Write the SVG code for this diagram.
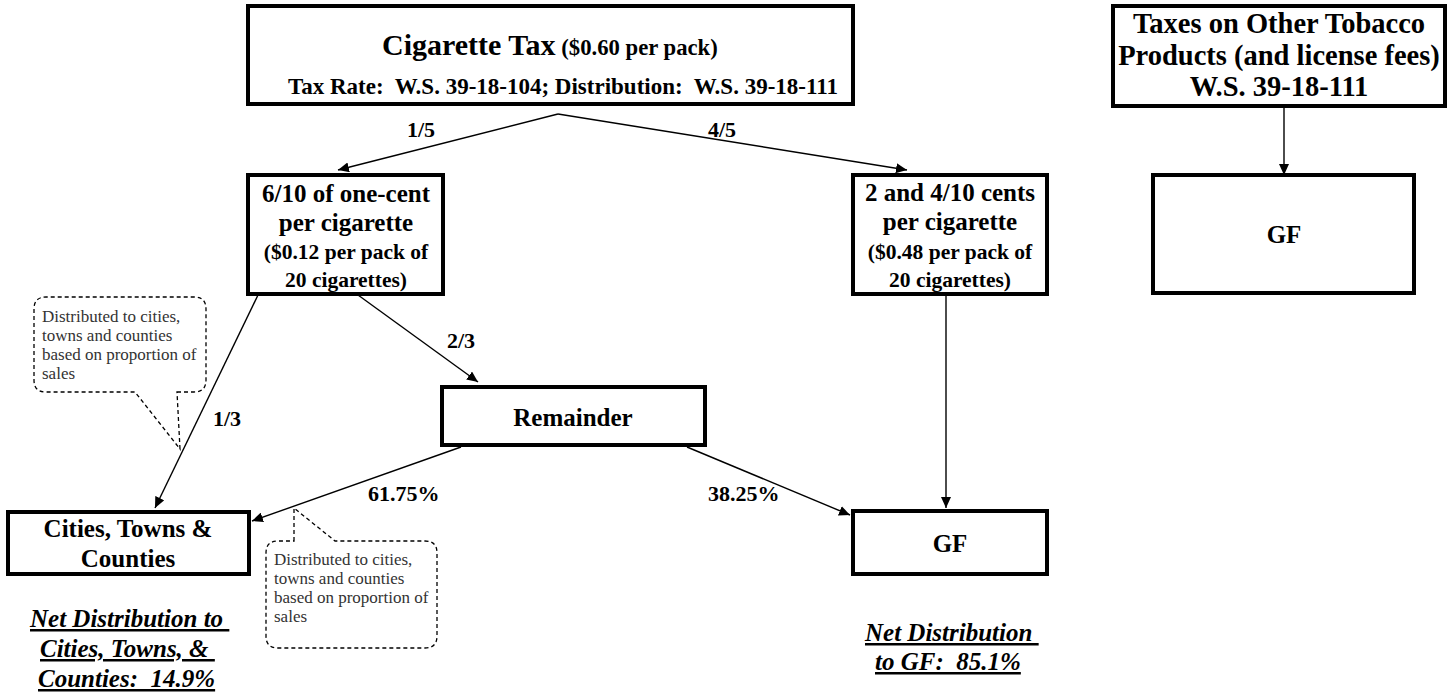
<svg xmlns="http://www.w3.org/2000/svg" width="1448" height="693" viewBox="0 0 1448 693">
  <style>
    text { font-family: "Liberation Serif", "Times New Roman", serif; fill: #000; white-space: pre; }
    .box { fill: #fff; stroke: #000; stroke-width: 4; }
    .big { font-size: 25px; font-weight: bold; }
    .mid { font-size: 21.5px; font-weight: bold; }
    .lbl { font-size: 22px; font-weight: bold; }
    .note { font-size: 17px; fill: #333; }
    .net { font-size: 25px; font-weight: bold; font-style: italic; text-decoration: underline; }
    .wire { fill: none; stroke: #000; stroke-width: 1.4; marker-end: url(#arrow); }
    .callout { fill: #fff; stroke: #000; stroke-width: 1.3; stroke-dasharray: 4 3; }
  </style>
  <defs>
    <marker id="arrow" markerUnits="userSpaceOnUse" markerWidth="12" markerHeight="10" refX="11" refY="5" orient="auto">
      <path d="M0,0 L11,5 L0,10 Z" fill="#000"/>
    </marker>
  </defs>
  <rect width="1448" height="693" fill="#fff"/>

  <!-- connectors -->
  <g id="connectors">
    <polyline class="wire" points="558,114 338,170"/>
    <polyline class="wire" points="558,114 907,170"/>
    <polyline class="wire" points="1284,106 1284,175"/>
    <polyline class="wire" points="258,295 155,508"/>
    <polyline class="wire" points="358,295 478,382"/>
    <polyline class="wire" points="461,447 252,521"/>
    <polyline class="wire" points="687,447 850,515"/>
    <polyline class="wire" points="946,295 946,508"/>
  </g>

  <!-- flow labels -->
  <g id="labels">
    <text class="lbl" x="407" y="137">1/5</text>
    <text class="lbl" x="708" y="137">4/5</text>
    <text class="lbl" x="447" y="348">2/3</text>
    <text class="lbl" x="213" y="426">1/3</text>
    <text class="lbl" x="368" y="501">61.75%</text>
    <text class="lbl" x="708" y="501">38.25%</text>
  </g>

  <!-- source: cigarette tax -->
  <g id="cigarette-tax">
    <rect class="box" x="248" y="6" width="605" height="98"/>
    <text x="382" y="55" font-weight="bold"><tspan font-size="30">Cigarette Tax</tspan><tspan font-size="22.7"> ($0.60 per pack)</tspan></text>
    <text x="288" y="94" font-weight="bold" font-size="23">Tax Rate:  W.S. 39-18-104; Distribution:  W.S. 39-18-111</text>
  </g>

  <!-- source: other tobacco products -->
  <g id="other-tobacco">
    <rect class="box" x="1113" y="6" width="332" height="100"/>
    <text x="1279" y="33" text-anchor="middle" font-weight="bold" font-size="28.5">Taxes on Other Tobacco</text>
    <text x="1279" y="65" text-anchor="middle" font-weight="bold" font-size="28.5">Products (and license fees)</text>
    <text x="1279" y="96" text-anchor="middle" font-weight="bold" font-size="28.5">W.S. 39-18-111</text>
  </g>

  <g id="gf-other">
    <rect class="box" x="1153" y="175" width="261" height="118"/>
    <text class="big" x="1284" y="243" text-anchor="middle" font-size="26">GF</text>
  </g>

  <!-- one-fifth share -->
  <g id="six-tenths">
    <rect class="box" x="248" y="175" width="195" height="119"/>
    <text class="big" x="346" y="202" text-anchor="middle">6/10 of one-cent</text>
    <text class="big" x="346" y="231" text-anchor="middle">per cigarette</text>
    <text class="mid" x="346" y="259" text-anchor="middle">($0.12 per pack of</text>
    <text class="mid" x="346" y="287" text-anchor="middle">20 cigarettes)</text>
  </g>

  <!-- four-fifths share -->
  <g id="two-and-four-tenths">
    <rect class="box" x="853" y="175" width="194" height="119"/>
    <text class="big" x="950" y="201" text-anchor="middle">2 and 4/10 cents</text>
    <text class="big" x="950" y="230" text-anchor="middle">per cigarette</text>
    <text class="mid" x="950" y="259" text-anchor="middle">($0.48 per pack of</text>
    <text class="mid" x="950" y="287" text-anchor="middle">20 cigarettes)</text>
  </g>

  <g id="remainder">
    <rect class="box" x="442" y="387" width="263" height="58"/>
    <text class="big" x="573" y="426" text-anchor="middle" font-size="26">Remainder</text>
  </g>

  <g id="cities">
    <rect class="box" x="8" y="512" width="241" height="62"/>
    <text class="big" x="128" y="537" text-anchor="middle">Cities, Towns &amp;</text>
    <text class="big" x="128" y="567" text-anchor="middle">Counties</text>
  </g>

  <g id="gf-cigarette">
    <rect class="box" x="853" y="511" width="194" height="63"/>
    <text class="big" x="950" y="552" text-anchor="middle" font-size="26">GF</text>
  </g>

  <!-- dashed callouts -->
  <g id="note-direct">
    <path class="callout" d="M177,392 L194,392 Q206,392 206,380 L206,309 Q206,297 194,297 L46,297 Q34,297 34,309 L34,380 Q34,392 46,392 L135,392 L180,449 Z"/>
    <text class="note" x="42" y="322">Distributed to cities,</text>
    <text class="note" x="42" y="341">towns and counties</text>
    <text class="note" x="42" y="360">based on proportion of</text>
    <text class="note" x="42" y="379">sales</text>
  </g>

  <g id="note-remainder">
    <path class="callout" d="M294,541 L294,508 L335,541 L425,541 Q437,541 437,553 L437,636 Q437,648 425,648 L278,648 Q266,648 266,636 L266,553 Q266,541 278,541 Z"/>
    <text class="note" x="274" y="565">Distributed to cities,</text>
    <text class="note" x="274" y="584">towns and counties</text>
    <text class="note" x="274" y="603">based on proportion of</text>
    <text class="note" x="274" y="622">sales</text>
  </g>

  <!-- net distribution summaries -->
  <g id="net-cities">
    <text class="net" x="30" y="627">Net Distribution to </text>
    <text class="net" x="40" y="657">Cities, Towns, &amp; </text>
    <text class="net" x="38" y="687">Counties:  14.9%</text>
  </g>

  <g id="net-gf">
    <text class="net" x="865" y="641">Net Distribution </text>
    <text class="net" x="875" y="670">to GF:  85.1%</text>
  </g>
</svg>
